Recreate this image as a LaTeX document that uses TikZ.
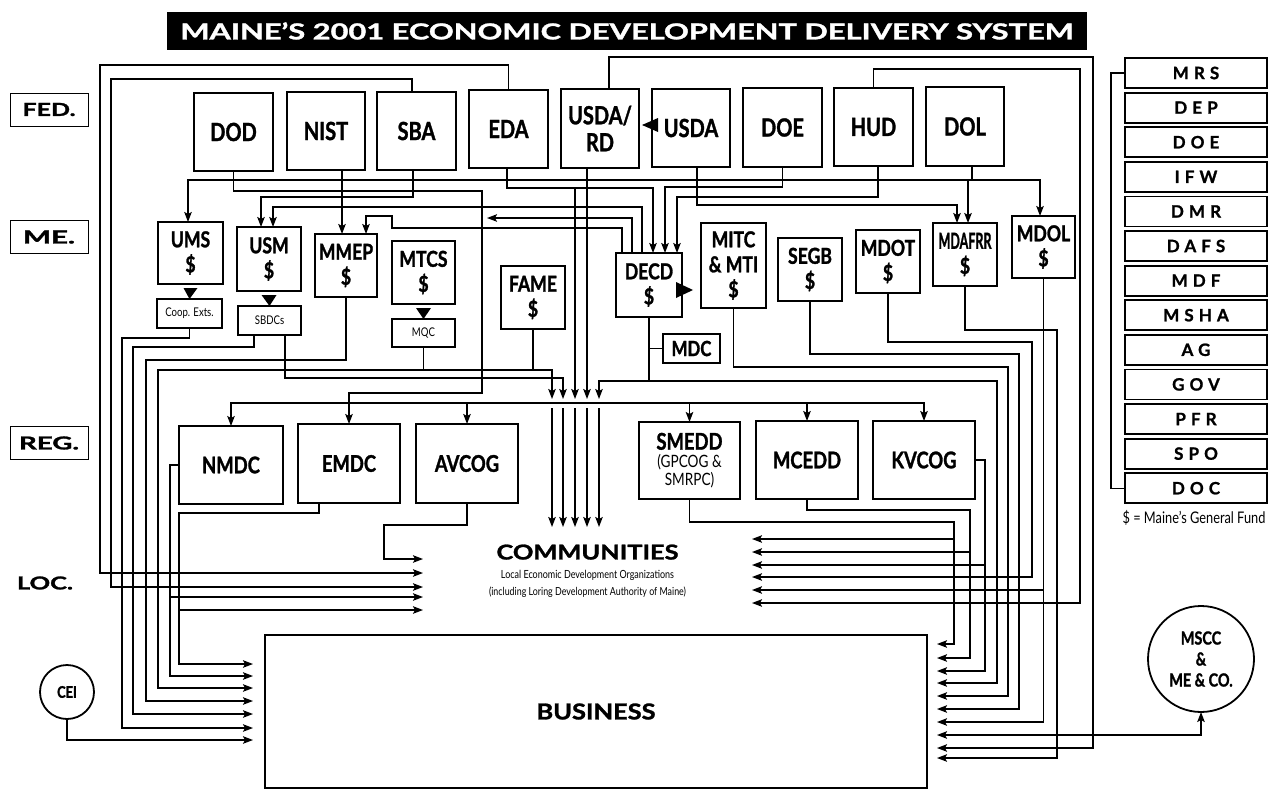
\documentclass[tikz,border=0pt]{standalone}
\usepackage{fontspec}
\usepackage{graphicx}
\setmainfont{Lato}[BoldFeatures={FakeBold=1.3}]
\newfontfamily\condfont{Lato}[FakeStretch=0.8, BoldFeatures={FakeBold=1.3}]
\newfontfamily\spacedfont{Lato}[LetterSpace=30, BoldFeatures={FakeBold=1.2}]
\usetikzlibrary{arrows.meta,calc}
\tikzset{
  every node/.style={inner sep=0pt, outer sep=0pt},
  box/.style={draw, line width=1.8pt, anchor=north west, align=center},
  fedbox/.style={box, font=\condfont\bfseries\fontsize{25}{27}\selectfont},
  mebox/.style={box, font=\condfont\bfseries\fontsize{22}{25}\selectfont},
  regbox/.style={box, font=\condfont\bfseries\fontsize{23}{25}\selectfont},
  smallbox/.style={box, line width=1.6pt, font=\condfont\fontsize{12}{13}\selectfont},
  rbox/.style={box, minimum width=142pt, minimum height=30pt, font=\spacedfont\bfseries\fontsize{17}{18}\selectfont},
  lab/.style={draw, line width=0.7pt, minimum width=78pt, minimum height=33pt},
  wire/.style={line width=1.4pt},
  arr/.style={wire, -{Stealth[length=10pt,width=7.5pt,inset=2pt]}},
  arrboth/.style={wire, {Stealth[length=10pt,width=7.5pt,inset=2pt]}-{Stealth[length=10pt,width=7.5pt,inset=2pt]}},
}
\begin{document}
\begin{tikzpicture}[x=1pt,y=-1pt]
\fill[white] (0,0) rectangle (1274,792);
\useasboundingbox (0,0) rectangle (1274,792);

% title
\node[fill=black, text=white, anchor=north west, minimum width=920pt, minimum height=38pt] (title) at (167,12)
  {\resizebox{893pt}{17pt}{\bfseries MAINE’S 2001 ECONOMIC DEVELOPMENT DELIVERY SYSTEM}};

% level labels
\node[lab] (fed) at (49,109.5) {\resizebox{53pt}{13pt}{\bfseries FED.}};
\node[lab] (me) at (49,237) {\resizebox{52pt}{13pt}{\bfseries ME.}};
\node[lab] (reg) at (49,443) {\resizebox{60pt}{13pt}{\bfseries REG.}};
\node (loc) at (45,583) {\resizebox{56pt}{13pt}{\bfseries LOC.}};

% federal
\node[fedbox, minimum width=79pt, minimum height=78pt] (dod) at (194,93) {DOD};
\node[fedbox, minimum width=78pt, minimum height=78pt] (nist) at (287,92) {NIST};
\node[fedbox, minimum width=79pt, minimum height=78pt] (sba) at (377,92) {SBA};
\node[fedbox, minimum width=79pt, minimum height=78pt] (eda) at (469,90) {EDA};
\node[fedbox, minimum width=78pt, minimum height=79pt] (usdard) at (561,89) {USDA/\\RD};
\node[fedbox, minimum width=78pt, minimum height=78pt] (usda) at (652,89) {USDA};
\node[fedbox, minimum width=79pt, minimum height=79pt] (doe) at (743,88) {DOE};
\node[fedbox, minimum width=79pt, minimum height=78pt] (hud) at (834,88) {HUD};
\node[fedbox, minimum width=78pt, minimum height=79pt] (dol) at (926,87) {DOL};

% state
\node[mebox, minimum width=65pt, minimum height=62pt] (ums) at (158,222) {UMS\\\$};
\node[smallbox, minimum width=65pt, minimum height=29pt] (coop) at (157,299) {Coop. Exts.};
\node[mebox, minimum width=64pt, minimum height=64pt] (usm) at (237,227) {USM\\\$};
\node[smallbox, minimum width=63pt, minimum height=29pt] (sbdc) at (238,306) {SBDCs};
\node[mebox, minimum width=62pt, minimum height=63pt] (mmep) at (315,234) {MMEP\\\$};
\node[mebox, minimum width=63pt, minimum height=63pt] (mtcs) at (392,241) {MTCS\\\$};
\node[smallbox, minimum width=63pt, minimum height=28pt] (mqc) at (392,319) {MQC};
\node[mebox, minimum width=64pt, minimum height=63pt] (fame) at (501,266) {FAME\\\$};
\node[mebox, minimum width=66pt, minimum height=64pt] (decd) at (616,253) {DECD\\\$};
\node[mebox, minimum width=65pt, minimum height=85pt] (mitc) at (701,223) {MITC\\\& MTI\\\$};
\node[mebox, minimum width=64pt, minimum height=63pt] (segb) at (778,238) {SEGB\\\$};
\node[mebox, minimum width=57pt, minimum height=29pt, font=\condfont\bfseries\fontsize{21}{22}\selectfont] (mdc) at (663,334) {MDC};
\node[mebox, minimum width=64pt, minimum height=63pt] (mdot) at (856,230) {MDOT\\\$};
\node[mebox, minimum width=64pt, minimum height=63pt] (mdafrr) at (933,223) {\resizebox{53pt}{16pt}{MDAFRR}\\\$};
\node[mebox, minimum width=63pt, minimum height=62pt] (mdol) at (1012,216) {MDOL\\\$};

% regional
\node[regbox, minimum width=104pt, minimum height=78pt] (nmdc) at (179,426) {NMDC};
\node[regbox, minimum width=102pt, minimum height=79pt] (emdc) at (298,424) {EMDC};
\node[regbox, minimum width=102pt, minimum height=79pt] (avcog) at (416,424) {AVCOG};
\node[regbox, minimum width=101pt, minimum height=77pt, font=\condfont\bfseries\fontsize{23}{18}\selectfont] (smedd) at (639,422)
  {SMEDD\\{\mdseries\fontsize{17}{18}\selectfont (GPCOG \&}\\{\mdseries\fontsize{17}{18}\selectfont SMRPC)}};
\node[regbox, minimum width=102pt, minimum height=78pt] (mcedd) at (756,421) {MCEDD};
\node[regbox, minimum width=102pt, minimum height=78pt] (kvcog) at (873,421) {KVCOG};

% communities and business
\node[minimum width=329pt, minimum height=88pt, align=center, font=\fontsize{10}{17}\selectfont] (comm) at (587.5,571)
  {\resizebox{182pt}{15pt}{\bfseries COMMUNITIES}\\[2pt]
   \resizebox{173pt}{!}{\condfont Local Economic Development Organizations}\\
   \resizebox{197pt}{!}{\condfont (including Loring Development Authority of Maine)}};
\node[draw, line width=1.8pt, minimum width=662pt, minimum height=153pt] (biz) at (596,711.5)
  {\resizebox{119pt}{16pt}{\bfseries BUSINESS}};

% right column
\foreach \n/\t [count=\i from 0] in {mrs/MRS,dep/DEP,rdoe/DOE,ifw/IFW,dmr/DMR,dafs/DAFS,mdf/MDF,msha/MSHA,ag/AG,gov/GOV,pfr/PFR,spo/SPO,doc/DOC}
  \node[rbox] (\n) at (1125,{58+34.6*\i}) {\t};
\draw[wire] (mrs.west) -- ++(-14,0) |- (doc.west);
\node[font=\condfont\fontsize{16}{18}\selectfont] (legend) at (1194,518) {\$ = Maine’s General Fund};

% circles
\node[draw, circle, line width=1.8pt, minimum size=106pt, align=center, font=\condfont\bfseries\fontsize{18}{21}\selectfont] (mscc) at (1201,659) {MSCC\\\&\\ME \& CO.};
\node[draw, circle, line width=1.8pt, minimum size=54pt, font=\condfont\bfseries\fontsize{16}{18}\selectfont] (cei) at (67,692) {CEI};

\coordinate (bizL) at ([xshift=-12pt]biz.west);
\coordinate (bizR) at ([xshift=10pt]biz.east);
\coordinate (commL) at (comm.west);
\coordinate (commR) at (comm.east);
\coordinate (bus) at (230,403);

% filled triangles
\fill ($(ums.south)+(-7,4)$) -- ($(ums.south)+(7,4)$) -- (coop.north) -- cycle;
\fill ($(usm.south)+(-7.5,4)$) -- ($(usm.south)+(7.5,4)$) -- (sbdc.north) -- cycle;
\fill ($(mtcs.south)+(-7.5,4)$) -- ($(mtcs.south)+(7.5,4)$) -- (mqc.north) -- cycle;
\fill ($(decd.east)+(-6,-3)$) -- ($(decd.east)+(-6,13)$) -- ($(decd.east)+(11,5)$) -- cycle;
\fill ($(usda.west)+(6,-10)$) -- ($(usda.west)+(6,4)$) -- ($(usda.west)+(-10,-3)$) -- cycle;

% top loops
\draw[arr] (eda.north) |- (100,65) |- (commL |- 0,573);
\draw[arr] (sba.north -| 412,0) |- (111,79) |- (commL |- 0,587);
\draw[arr] (usdard.north -| 609,0) |- (1093,57) |- (bizR |- 0,748);
\draw[arr] (hud.north) |- (1080,69) |- (commR |- 0,603);

% federal to state
\draw[arr] (dod.south) |- (482,191) -- (482,393) -| (emdc.north);
\draw[arr] (nist.south -| 342,0) -- (mmep.north -| 342,0);
\draw[arr] (sba.south -| 413,0) |- (261,197) -- (usm.north -| 261,0);
\coordinate (dolj) at (972,180);
\draw[wire] (dol.south -| dolj) -- (dolj);
\draw[arr] (dolj) -| (mdol.north -| 1040,0);
\draw[arr] (dolj) -| (ums.north -| 188,0);
\draw[arr] (dolj -| 968,0) -- (mdafrr.north -| 968,0);
\draw[arr] (usda.south -| 697,0) |- (957,205) -- (mdafrr.north -| 957,0);
\draw[arr] (eda.south -| 507,0) |- (653,188) -- (decd.north -| 653,0);
\draw[arr] (575,188) -- (575,399);
\draw[arr] (doe.south) |- (665,187) -- (decd.north -| 665,0);
\draw[arr] (hud.south -| 878,0) |- (677,197) -- (decd.north -| 677,0);
\draw[arr] (usdard.south -| 587,0) -- (587,399);

% DECD
\draw[arr] (decd.north -| 622,0) |- (392,228) |- (366,216) -- (mmep.north -| 366,0);
\draw[arr] (decd.north -| 632,0) |- (487,218);
\draw[arr] (decd.north -| 642,0) |- (273,207) -- (usm.north -| 273,0);
\draw[arr] (decd.south) |- (997,381) |- (bizR |- 0,683);
\draw[arr] (decd.south |- 0,381) -| (599,399);
\draw[wire] (mdc.west) -- (mdc.west -| decd.south);

% FAME, MQC
\draw[wire] (fame.south) -- (fame.south |- 0,370);
\draw[arr] (mqc.south) |- (552,370) -- (552,399);
\draw[arr] (mqc.south |- 0,370) -| (158,688) -- (bizL |- 0,688);

% SBDCs, MMEP, Coop, CEI
\draw[arr] (sbdc.south -| 254,0) |- (133,347) |- (bizL |- 0,714);
\draw[arr] (sbdc.south -| 285,0) |- (563,378) -- (563,399);
\draw[arr] (mmep.south) |- (146,360) |- (bizL |- 0,701);
\draw[arr] (coop.south) |- (122,338) |- (bizL |- 0,728);
\draw[arr] (cei.south) |- (bizL |- 0,740);

% regional bus
\draw[wire] (bus) -- (925,403);
\foreach \n in {nmdc,avcog,smedd,mcedd,kvcog} \draw[arr] (\n.north |- bus) -- (\n.north);
\foreach \x in {552,563,575,587,599} \draw[arr] (\x,408) -- (comm.north -| \x,0);

% regional outputs
\draw[arr] (nmdc.west) -| (170,597) -- (commL |- 0,597);
\draw[arr] (170,597) |- (bizL |- 0,676);
\draw[arr] (emdc.south -| 319,0) |- (179,513) |- (commL |- 0,610);
\draw[arr] (179,610) |- (bizL |- 0,664);
\draw[arr] (avcog.south) |- (384,525) |- (commL |- 0,559);
\draw[arr] (smedd.south) |- (954,522) |- (bizR |- 0,644);
\draw[arr] (954,539) -- (commR |- 0,539);
\draw[arr] (mcedd.south) |- (970,510) |- (bizR |- 0,658);
\draw[arr] (970,552) -- (commR |- 0,552);
\draw[arr] (kvcog.east) -| (985,671) -- (bizR |- 0,671);
\draw[arr] (985,565) -- (commR |- 0,565);

% state right outputs
\draw[arr] (mitc.south) |- (1008,367) |- (bizR |- 0,696);
\draw[arr] (segb.south) |- (1019,354) |- (bizR |- 0,709);
\draw[arr] (mdot.south) |- (1032,342) |- (commR |- 0,577);
\draw[arr] (mdol.south) |- (bizR |- 0,722);
\draw[arr] (mdol.south |- 0,590) -- (commR |- 0,590);
\draw[arr] (mdafrr.south) |- (1057,330) |- (bizR |- 0,758);

% MSCC
\draw[arrboth] (bizR |- 0,735) -| (mscc.south);
\end{tikzpicture}
\end{document}
